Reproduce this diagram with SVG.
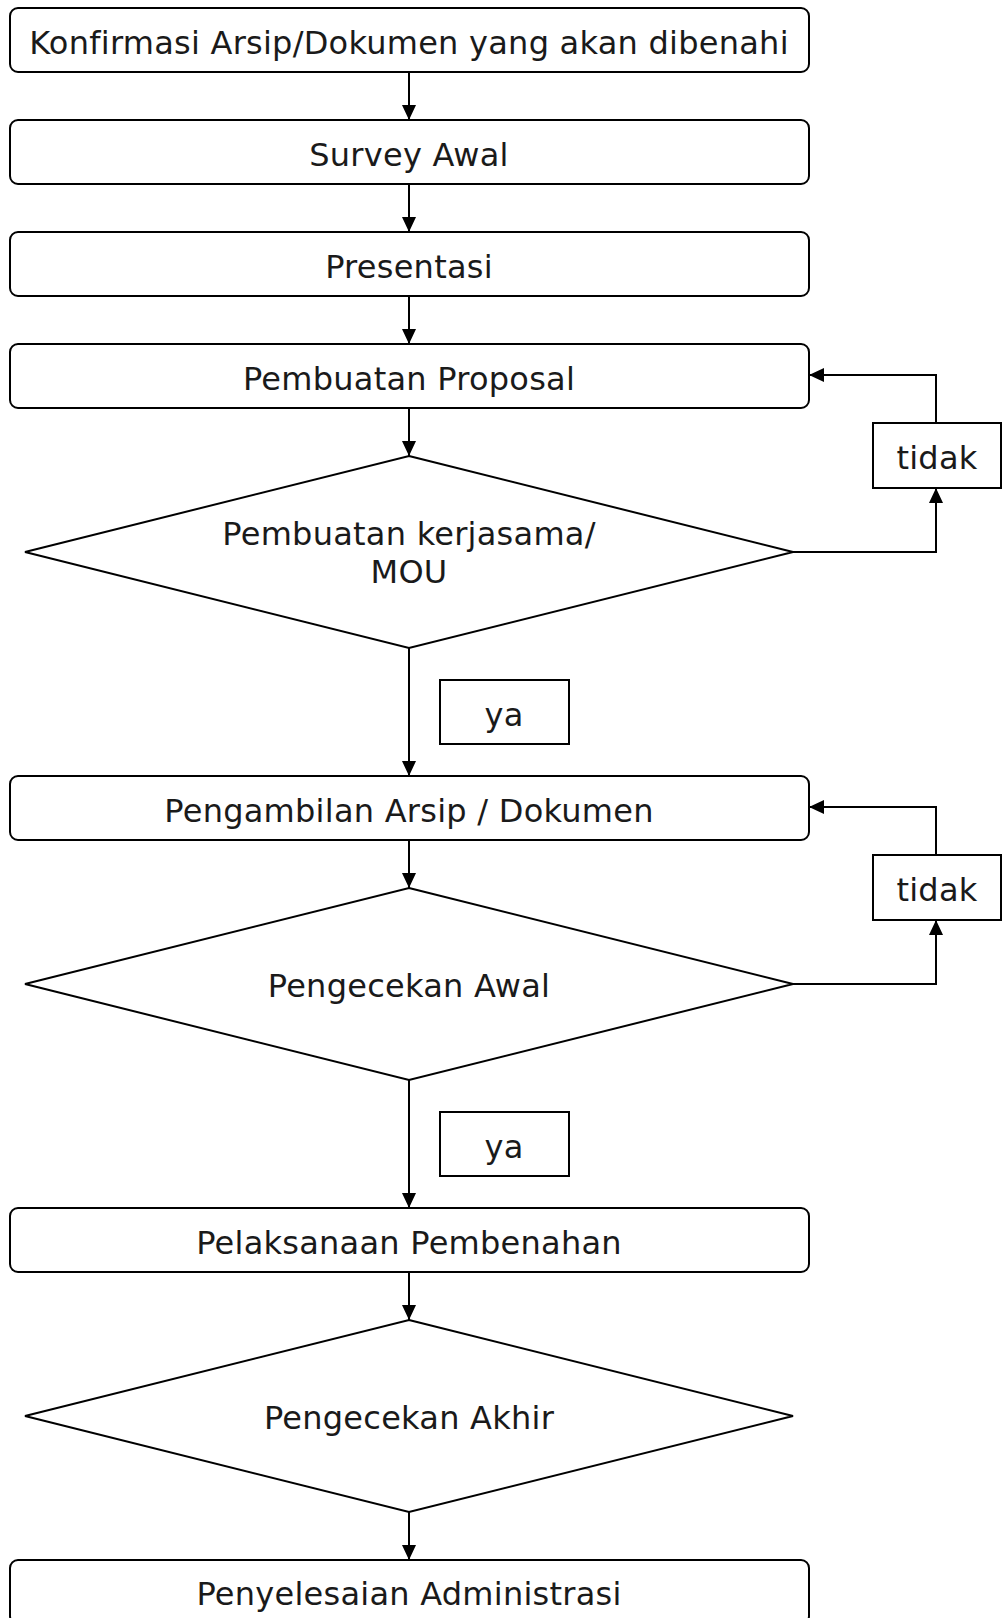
<svg xmlns="http://www.w3.org/2000/svg" width="1003" height="1618" viewBox="0 0 1003 1618">
  <style>
    .box { fill: #fff; stroke: #000; stroke-width: 2; }
    .lbl { fill: #fff; stroke: #000; stroke-width: 2; }
    .dec { fill: #fff; stroke: #000; stroke-width: 2; stroke-linejoin: miter; }
    .txt { font-family: "DejaVu Sans", Verdana, sans-serif; font-size: 32px; letter-spacing: 0.25px; fill: #1a1a1a; text-anchor: middle; }
    .edge { fill: none; stroke: #000; stroke-width: 2; }
  </style>
  <defs>
    <marker id="arrow" markerUnits="userSpaceOnUse" markerWidth="16" markerHeight="15" refX="15" refY="7" orient="auto">
      <path d="M0,0 L15,7 L0,14 Z" fill="#000"/>
    </marker>
  </defs>
  <rect width="1003" height="1618" fill="#fff"/>

  <!-- connectors -->
  <g id="connectors">
    <path class="edge" d="M409,72 V120" marker-end="url(#arrow)"/>
    <path class="edge" d="M409,184 V232" marker-end="url(#arrow)"/>
    <path class="edge" d="M409,296 V344" marker-end="url(#arrow)"/>
    <path class="edge" d="M409,408 V456" marker-end="url(#arrow)"/>
    <path class="edge" d="M409,648 V776" marker-end="url(#arrow)"/>
    <path class="edge" d="M409,840 V888" marker-end="url(#arrow)"/>
    <path class="edge" d="M409,1080 V1208" marker-end="url(#arrow)"/>
    <path class="edge" d="M409,1272 V1320" marker-end="url(#arrow)"/>
    <path class="edge" d="M409,1512 V1560" marker-end="url(#arrow)"/>
    <!-- "tidak" loop back to Pembuatan Proposal -->
    <path class="edge" d="M793,552 H936 V488" marker-end="url(#arrow)"/>
    <path class="edge" d="M936,423 V375 H809" marker-end="url(#arrow)"/>
    <!-- "tidak" loop back to Pengambilan Arsip -->
    <path class="edge" d="M793,984 H936 V920" marker-end="url(#arrow)"/>
    <path class="edge" d="M936,855 V807 H809" marker-end="url(#arrow)"/>
  </g>

  <g id="n1">
    <rect class="box" x="10" y="8" width="799" height="64" rx="8"/>
    <text class="txt" x="409" y="54">Konfirmasi Arsip/Dokumen yang akan dibenahi</text>
  </g>
  <g id="n2">
    <rect class="box" x="10" y="120" width="799" height="64" rx="8"/>
    <text class="txt" x="409" y="166">Survey Awal</text>
  </g>
  <g id="n3">
    <rect class="box" x="10" y="232" width="799" height="64" rx="8"/>
    <text class="txt" x="409" y="278">Presentasi</text>
  </g>
  <g id="n4">
    <rect class="box" x="10" y="344" width="799" height="64" rx="8"/>
    <text class="txt" x="409" y="390">Pembuatan Proposal</text>
  </g>
  <g id="d1">
    <polygon class="dec" points="409,456 793,552 409,648 25,552"/>
    <text class="txt" x="409" y="545">Pembuatan kerjasama/</text>
    <text class="txt" x="409" y="583">MOU</text>
  </g>
  <g id="tidak1">
    <rect class="lbl" x="873" y="423" width="128" height="65"/>
    <text class="txt" x="937" y="469">tidak</text>
  </g>
  <g id="ya1">
    <rect class="lbl" x="440" y="680" width="129" height="64"/>
    <text class="txt" x="504" y="726">ya</text>
  </g>
  <g id="n5">
    <rect class="box" x="10" y="776" width="799" height="64" rx="8"/>
    <text class="txt" x="409" y="822">Pengambilan Arsip / Dokumen</text>
  </g>
  <g id="d2">
    <polygon class="dec" points="409,888 793,984 409,1080 25,984"/>
    <text class="txt" x="409" y="997">Pengecekan Awal</text>
  </g>
  <g id="tidak2">
    <rect class="lbl" x="873" y="855" width="128" height="65"/>
    <text class="txt" x="937" y="901">tidak</text>
  </g>
  <g id="ya2">
    <rect class="lbl" x="440" y="1112" width="129" height="64"/>
    <text class="txt" x="504" y="1158">ya</text>
  </g>
  <g id="n6">
    <rect class="box" x="10" y="1208" width="799" height="64" rx="8"/>
    <text class="txt" x="409" y="1254">Pelaksanaan Pembenahan</text>
  </g>
  <g id="d3">
    <polygon class="dec" points="409,1320 793,1416 409,1512 25,1416"/>
    <text class="txt" x="409" y="1429">Pengecekan Akhir</text>
  </g>
  <g id="n7">
    <rect class="box" x="10" y="1560" width="799" height="64" rx="8"/>
    <text class="txt" x="409" y="1605">Penyelesaian Administrasi</text>
  </g>
</svg>
